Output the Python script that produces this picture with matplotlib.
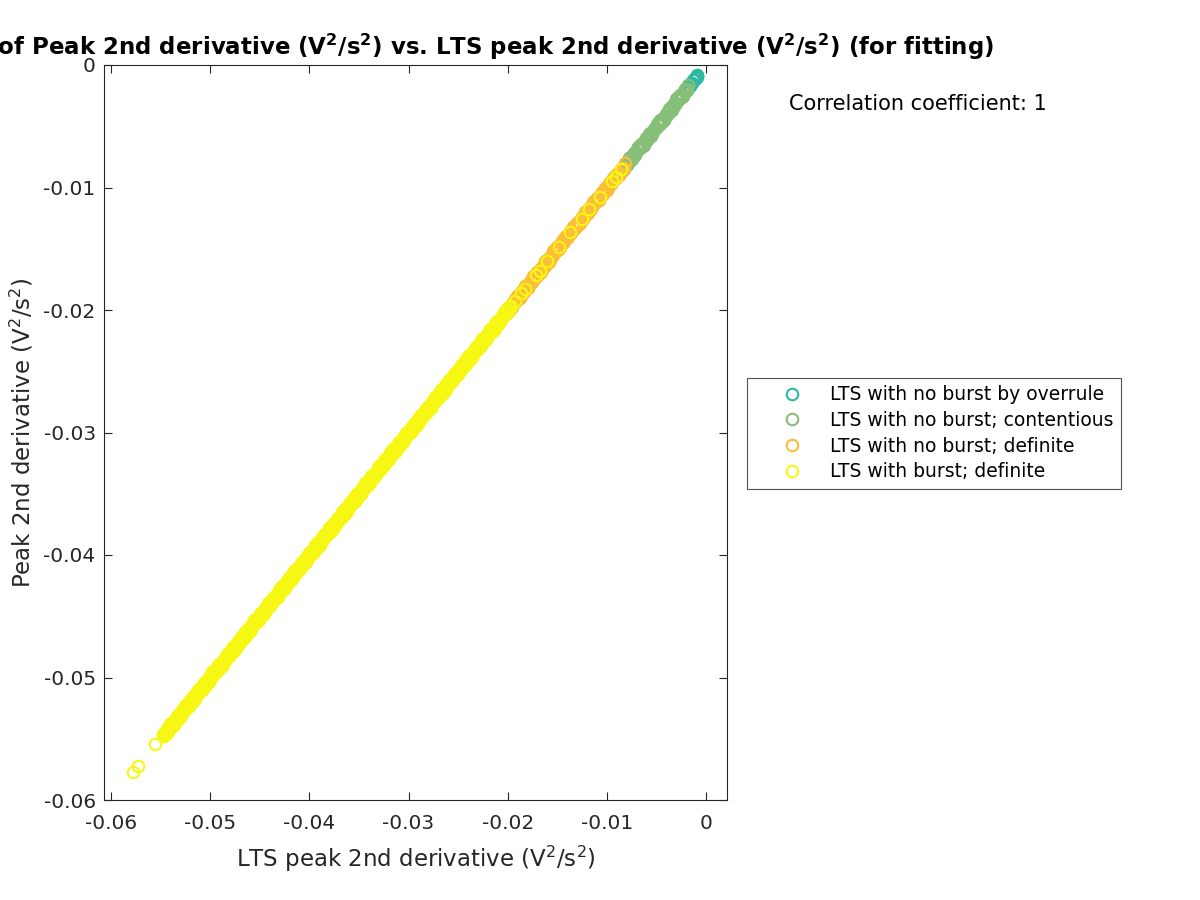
import matplotlib
matplotlib.use("Agg")
import matplotlib.pyplot as plt
from matplotlib.lines import Line2D

plt.rcParams['font.family'] = ['DejaVu Sans']
plt.rcParams['axes.unicode_minus'] = False

# ---------------- data ----------------
overrule_x = [-0.00088, -0.00092, -0.00097, -0.00103, -0.00110, -0.00118, -0.00128,
              -0.00140, -0.00152, -0.00165, -0.00180, -0.00196, -0.00212]
overrule_y = [-0.00085, -0.00095, -0.00093, -0.00108, -0.00106, -0.00123, -0.00125,
              -0.00146, -0.00149, -0.00171, -0.00177, -0.00202, -0.00209]

contentious_x = [-0.00180, -0.00199, -0.00221, -0.00240, -0.00259, -0.00281, -0.00300, -0.00320, -0.00341, -0.00360,
                 -0.00379, -0.00401, -0.00420, -0.00440, -0.00461, -0.00480, -0.00500, -0.00521, -0.00540, -0.00559,
                 -0.00581, -0.00600, -0.00620, -0.00641, -0.00660, -0.00680, -0.00701, -0.00720, -0.00740, -0.00761,
                 -0.00780, -0.00800, -0.00821, -0.00840, -0.00860, -0.00879,
                 -0.00189, -0.00209, -0.00229, -0.00249, -0.00269, -0.00289, -0.00309, -0.00329, -0.00349, -0.00369,
                 -0.00389, -0.00409, -0.00429, -0.00449, -0.00469, -0.00489, -0.00509, -0.00529, -0.00549, -0.00569,
                 -0.00589, -0.00609, -0.00629, -0.00649, -0.00669, -0.00689, -0.00709, -0.00729, -0.00749, -0.00769,
                 -0.00789, -0.00809, -0.00829, -0.00849, -0.00869]
contentious_y = [-0.00162, -0.00214, -0.00215, -0.00260, -0.00245, -0.00289, -0.00281, -0.00333, -0.00337, -0.00377,
                 -0.00361, -0.00416, -0.00414, -0.00460, -0.00447, -0.00488, -0.00481, -0.00534, -0.00536, -0.00576,
                 -0.00563, -0.00615, -0.00614, -0.00661, -0.00646, -0.00688, -0.00682, -0.00733, -0.00736, -0.00778,
                 -0.00762, -0.00815, -0.00815, -0.00860, -0.00846, -0.00887,
                 -0.00197, -0.00197, -0.00249, -0.00244, -0.00281, -0.00271, -0.00312, -0.00319, -0.00365, -0.00355,
                 -0.00397, -0.00397, -0.00449, -0.00444, -0.00481, -0.00471, -0.00512, -0.00519, -0.00565, -0.00555,
                 -0.00597, -0.00597, -0.00649, -0.00644, -0.00681, -0.00671, -0.00712, -0.00719, -0.00765, -0.00755,
                 -0.00797, -0.00797, -0.00849, -0.00844, -0.00881]

noburst_x = [-0.00820, -0.00838, -0.00861, -0.00879, -0.00900, -0.00918, -0.00941, -0.00960, -0.00979, -0.01001,
             -0.01020, -0.01039, -0.01061, -0.01080, -0.01099, -0.01121, -0.01140, -0.01160, -0.01181, -0.01200,
             -0.01219, -0.01241, -0.01260, -0.01279, -0.01301, -0.01320, -0.01340, -0.01361, -0.01380, -0.01399,
             -0.01421, -0.01440, -0.01460, -0.01481, -0.01500, -0.01520, -0.01541, -0.01560, -0.01580, -0.01601,
             -0.01620, -0.01641, -0.01660, -0.01680, -0.01701, -0.01720, -0.01741, -0.01760, -0.01781, -0.01800,
             -0.01822, -0.01841, -0.01862, -0.01880, -0.01902, -0.01921, -0.01942, -0.01960, -0.01983, -0.02003,
             -0.00829, -0.00849, -0.00869, -0.00889, -0.00909, -0.00929, -0.00949, -0.00969, -0.00989, -0.01009,
             -0.01029, -0.01049, -0.01069, -0.01089, -0.01109, -0.01129, -0.01149, -0.01169, -0.01189, -0.01209,
             -0.01229, -0.01249, -0.01269, -0.01289, -0.01309, -0.01329, -0.01349, -0.01369, -0.01389, -0.01409,
             -0.01429, -0.01449, -0.01469, -0.01489, -0.01509, -0.01529, -0.01549, -0.01569, -0.01589, -0.01609,
             -0.01629, -0.01649, -0.01669, -0.01689, -0.01709, -0.01729, -0.01749, -0.01769, -0.01789, -0.01809,
             -0.01829, -0.01849, -0.01869, -0.01889, -0.01909, -0.01929, -0.01949, -0.01969, -0.01989, -0.02009]
noburst_y = [-0.00802, -0.00853, -0.00855, -0.00899, -0.00886, -0.00926, -0.00922, -0.00973, -0.00975, -0.01018,
             -0.01002, -0.01054, -0.01055, -0.01100, -0.01085, -0.01129, -0.01121, -0.01173, -0.01177, -0.01217,
             -0.01201, -0.01256, -0.01254, -0.01299, -0.01287, -0.01328, -0.01321, -0.01374, -0.01376, -0.01416,
             -0.01403, -0.01455, -0.01454, -0.01501, -0.01486, -0.01528, -0.01522, -0.01573, -0.01576, -0.01618,
             -0.01602, -0.01656, -0.01654, -0.01700, -0.01687, -0.01728, -0.01722, -0.01773, -0.01777, -0.01817,
             -0.01804, -0.01856, -0.01856, -0.01900, -0.01888, -0.01929, -0.01923, -0.01973, -0.01979, -0.02020,
             -0.00837, -0.00837, -0.00889, -0.00884, -0.00921, -0.00911, -0.00952, -0.00959, -0.01005, -0.00995,
             -0.01037, -0.01037, -0.01089, -0.01084, -0.01121, -0.01111, -0.01152, -0.01159, -0.01205, -0.01195,
             -0.01237, -0.01237, -0.01289, -0.01284, -0.01321, -0.01311, -0.01352, -0.01359, -0.01405, -0.01395,
             -0.01437, -0.01437, -0.01489, -0.01484, -0.01521, -0.01511, -0.01552, -0.01559, -0.01605, -0.01595,
             -0.01637, -0.01637, -0.01689, -0.01684, -0.01721, -0.01711, -0.01752, -0.01759, -0.01805, -0.01795,
             -0.01837, -0.01837, -0.01889, -0.01884, -0.01921, -0.01911, -0.01952, -0.01959, -0.02005, -0.01995]

burst_x = [
    -0.05777, -0.05726, -0.05554,
    -0.05480, -0.05462, -0.05451, -0.05433, -0.05420, -0.05405, -0.05391, -0.05377, -0.05362, -0.05350,
    -0.05334, -0.05322, -0.05306, -0.05293, -0.05279, -0.05265, -0.05250, -0.05238, -0.05221, -0.05210,
    -0.05195, -0.05181, -0.05168, -0.05152, -0.05140, -0.05124, -0.05112, -0.05097, -0.05083, -0.05070,
    -0.05054, -0.05042, -0.05027, -0.05013, -0.05000, -0.04985, -0.04972, -0.04958, -0.04943, -0.04930,
    -0.04916, -0.04903, -0.04888, -0.04874, -0.04861, -0.04846, -0.04833, -0.04818, -0.04805, -0.04790,
    -0.04777, -0.04763, -0.04749, -0.04735, -0.04720, -0.04708, -0.04693, -0.04680, -0.04665, -0.04652,
    -0.04637, -0.04624, -0.04610, -0.04596, -0.04581, -0.04568, -0.04553, -0.04540, -0.04526, -0.04512,
    -0.04498, -0.04484, -0.04470, -0.04457, -0.04442, -0.04428, -0.04415, -0.04400, -0.04387, -0.04372,
    -0.04359, -0.04345, -0.04330, -0.04317, -0.04303, -0.04289, -0.04275, -0.04260, -0.04247, -0.04233,
    -0.04219, -0.04205, -0.04191, -0.04177, -0.04163, -0.04149, -0.04135, -0.04121, -0.04107, -0.04093,
    -0.04079, -0.04065, -0.04051, -0.04037, -0.04023, -0.04009, -0.03995, -0.03981, -0.03967, -0.03953,
    -0.03939, -0.03925, -0.03911, -0.03897, -0.03883, -0.03869, -0.03855, -0.03841, -0.03827, -0.03813,
    -0.03799, -0.03785, -0.03771, -0.03757, -0.03743, -0.03729, -0.03715, -0.03701, -0.03687, -0.03673,
    -0.03659, -0.03645, -0.03631, -0.03617, -0.03603, -0.03589, -0.03575, -0.03561, -0.03547, -0.03533,
    -0.03519, -0.03505, -0.03491, -0.03477, -0.03463, -0.03449, -0.03435, -0.03421, -0.03407, -0.03393,
    -0.03379, -0.03365, -0.03351, -0.03337, -0.03323, -0.03309, -0.03295, -0.03281, -0.03267, -0.03253,
    -0.03239, -0.03225, -0.03211, -0.03197, -0.03183, -0.03169, -0.03155, -0.03141, -0.03127, -0.03113,
    -0.03099, -0.03085, -0.03071, -0.03057, -0.03043, -0.03029, -0.03015, -0.03001, -0.02987, -0.02973,
    -0.02959, -0.02945, -0.02931, -0.02917, -0.02903, -0.02889, -0.02875, -0.02861, -0.02847, -0.02833,
    -0.02819, -0.02805, -0.02791, -0.02777, -0.02763, -0.02749, -0.02735, -0.02721, -0.02707, -0.02693,
    -0.02679, -0.02665, -0.02651, -0.02637, -0.02623, -0.02609, -0.02595, -0.02581, -0.02567, -0.02553,
    -0.02539, -0.02525, -0.02511, -0.02497, -0.02483, -0.02469, -0.02455, -0.02441, -0.02427, -0.02413,
    -0.02399, -0.02385, -0.02371, -0.02357, -0.02343, -0.02329, -0.02315, -0.02301, -0.02287, -0.02273,
    -0.02259, -0.02245, -0.02231, -0.02217, -0.02203, -0.02189, -0.02175, -0.02161, -0.02147, -0.02133,
    -0.02119, -0.02105, -0.02091, -0.02077, -0.02063, -0.02049, -0.02035, -0.02021, -0.02007, -0.01993,
    -0.01972, -0.01925, -0.01870, -0.01825, -0.01720, -0.01672, -0.01605, -0.01480, -0.01370, -0.01250,
    -0.01180, -0.01070, -0.00950, -0.00910, -0.00860,
    -0.05473, -0.05459, -0.05445, -0.05431, -0.05417, -0.05403, -0.05389, -0.05375, -0.05361, -0.05347,
    -0.05327, -0.05313, -0.05299, -0.05285, -0.05271, -0.05257, -0.05243, -0.05229, -0.05215, -0.05201,
    -0.05188, -0.05174, -0.05160, -0.05146, -0.05132, -0.05118, -0.05104, -0.05090, -0.05076, -0.05062,
    -0.05047, -0.05033, -0.05019, -0.05005, -0.04991, -0.04977, -0.04963, -0.04949, -0.04935, -0.04921,
    -0.04909, -0.04895, -0.04881, -0.04867, -0.04853, -0.04839, -0.04825, -0.04811, -0.04797, -0.04783,
    -0.04770, -0.04756, -0.04742, -0.04728, -0.04714, -0.04700, -0.04686, -0.04672, -0.04658, -0.04644,
    -0.04630, -0.04616, -0.04602, -0.04588, -0.04574, -0.04560, -0.04546, -0.04532, -0.04518, -0.04504,
    -0.04491, -0.04477, -0.04463, -0.04449, -0.04435, -0.04421, -0.04407, -0.04393, -0.04379, -0.04365,
    -0.04352, -0.04338, -0.04324, -0.04310, -0.04296, -0.04282, -0.04268, -0.04254, -0.04240, -0.04226,
    -0.04212, -0.04198, -0.04184, -0.04170, -0.04156, -0.04142, -0.04128, -0.04114, -0.04100, -0.04086,
    -0.04072, -0.04058, -0.04044, -0.04030, -0.04016, -0.04002, -0.03988, -0.03974, -0.03960, -0.03946,
    -0.03932, -0.03918, -0.03904, -0.03890, -0.03876, -0.03862, -0.03848, -0.03834, -0.03820, -0.03806,
    -0.03792, -0.03778, -0.03764, -0.03750, -0.03736, -0.03722, -0.03708, -0.03694, -0.03680, -0.03666,
    -0.03652, -0.03638, -0.03624, -0.03610, -0.03596, -0.03582, -0.03568, -0.03554, -0.03540, -0.03526,
    -0.03512, -0.03498, -0.03484, -0.03470, -0.03456, -0.03442, -0.03428, -0.03414, -0.03400, -0.03386,
    -0.03372, -0.03358, -0.03344, -0.03330, -0.03316, -0.03302, -0.03288, -0.03274, -0.03260, -0.03246,
    -0.03232, -0.03218, -0.03204, -0.03190, -0.03176, -0.03162, -0.03148, -0.03134, -0.03120, -0.03106,
    -0.03092, -0.03078, -0.03064, -0.03050, -0.03036, -0.03022, -0.03008, -0.02994, -0.02980, -0.02966,
    -0.02952, -0.02938, -0.02924, -0.02910, -0.02896, -0.02882, -0.02868, -0.02854, -0.02840, -0.02826,
    -0.02812, -0.02798, -0.02784, -0.02770, -0.02756, -0.02742, -0.02728, -0.02714, -0.02700, -0.02686,
    -0.02672, -0.02658, -0.02644, -0.02630, -0.02616, -0.02602, -0.02588, -0.02574, -0.02560, -0.02546,
    -0.02532, -0.02518, -0.02504, -0.02490, -0.02476, -0.02462, -0.02448, -0.02434, -0.02420, -0.02406,
    -0.02392, -0.02378, -0.02364, -0.02350, -0.02336, -0.02322, -0.02308, -0.02294, -0.02280, -0.02266,
    -0.02252, -0.02238, -0.02224, -0.02210, -0.02196, -0.02182, -0.02168, -0.02154, -0.02140, -0.02126,
    -0.02112, -0.02098, -0.02084, -0.02070, -0.02056, -0.02042, -0.02028, -0.02014, -0.02000, -0.01986]
burst_y = [
    -0.05771, -0.05722, -0.05543,
    -0.05460, -0.05479, -0.05443, -0.05455, -0.05404, -0.05411, -0.05370, -0.05392, -0.05359, -0.05369,
    -0.05314, -0.05339, -0.05298, -0.05315, -0.05263, -0.05271, -0.05229, -0.05253, -0.05218, -0.05229,
    -0.05175, -0.05198, -0.05160, -0.05174, -0.05124, -0.05130, -0.05091, -0.05112, -0.05080, -0.05089,
    -0.05034, -0.05059, -0.05019, -0.05035, -0.04984, -0.04991, -0.04951, -0.04973, -0.04940, -0.04949,
    -0.04896, -0.04920, -0.04880, -0.04896, -0.04845, -0.04852, -0.04812, -0.04833, -0.04802, -0.04809,
    -0.04757, -0.04780, -0.04741, -0.04757, -0.04704, -0.04714, -0.04672, -0.04695, -0.04662, -0.04671,
    -0.04617, -0.04641, -0.04602, -0.04618, -0.04565, -0.04574, -0.04532, -0.04555, -0.04523, -0.04531,
    -0.04478, -0.04501, -0.04462, -0.04479, -0.04426, -0.04434, -0.04394, -0.04415, -0.04384, -0.04391,
    -0.04339, -0.04362, -0.04322, -0.04339, -0.04287, -0.04295, -0.04254, -0.04275, -0.04244, -0.04252,
    -0.04199, -0.04222, -0.04183, -0.04199, -0.04147, -0.04155, -0.04114, -0.04136, -0.04104, -0.04112,
    -0.04059, -0.04082, -0.04043, -0.04059, -0.04007, -0.04015, -0.03974, -0.03996, -0.03964, -0.03972,
    -0.03919, -0.03942, -0.03903, -0.03919, -0.03867, -0.03875, -0.03834, -0.03856, -0.03824, -0.03832,
    -0.03779, -0.03802, -0.03763, -0.03779, -0.03727, -0.03735, -0.03694, -0.03716, -0.03684, -0.03692,
    -0.03639, -0.03662, -0.03623, -0.03639, -0.03587, -0.03595, -0.03554, -0.03576, -0.03544, -0.03552,
    -0.03499, -0.03522, -0.03483, -0.03499, -0.03447, -0.03455, -0.03414, -0.03436, -0.03404, -0.03412,
    -0.03359, -0.03382, -0.03343, -0.03359, -0.03307, -0.03315, -0.03274, -0.03296, -0.03264, -0.03272,
    -0.03219, -0.03242, -0.03203, -0.03219, -0.03167, -0.03175, -0.03134, -0.03156, -0.03124, -0.03132,
    -0.03079, -0.03102, -0.03063, -0.03079, -0.03027, -0.03035, -0.02994, -0.03016, -0.02984, -0.02992,
    -0.02939, -0.02962, -0.02923, -0.02939, -0.02887, -0.02895, -0.02854, -0.02876, -0.02844, -0.02852,
    -0.02799, -0.02822, -0.02783, -0.02799, -0.02747, -0.02755, -0.02714, -0.02736, -0.02704, -0.02712,
    -0.02659, -0.02682, -0.02643, -0.02659, -0.02607, -0.02615, -0.02574, -0.02596, -0.02564, -0.02572,
    -0.02519, -0.02542, -0.02503, -0.02519, -0.02467, -0.02475, -0.02434, -0.02456, -0.02424, -0.02432,
    -0.02379, -0.02402, -0.02363, -0.02379, -0.02327, -0.02335, -0.02294, -0.02316, -0.02284, -0.02292,
    -0.02239, -0.02262, -0.02223, -0.02239, -0.02187, -0.02195, -0.02154, -0.02176, -0.02144, -0.02152,
    -0.02099, -0.02122, -0.02083, -0.02099, -0.02047, -0.02055, -0.02014, -0.02036, -0.02004, -0.02012,
    -0.01965, -0.01930, -0.01862, -0.01831, -0.01712, -0.01680, -0.01598, -0.01487, -0.01362, -0.01256,
    -0.01173, -0.01076, -0.00943, -0.00916, -0.00853,
    -0.05481, -0.05447, -0.05465, -0.05426, -0.05429, -0.05385, -0.05392, -0.05365, -0.05377, -0.05333,
    -0.05335, -0.05301, -0.05319, -0.05280, -0.05283, -0.05239, -0.05246, -0.05219, -0.05231, -0.05187,
    -0.05196, -0.05162, -0.05180, -0.05141, -0.05144, -0.05100, -0.05107, -0.05080, -0.05092, -0.05048,
    -0.05055, -0.05021, -0.05039, -0.05000, -0.05003, -0.04959, -0.04966, -0.04939, -0.04951, -0.04907,
    -0.04917, -0.04883, -0.04901, -0.04862, -0.04865, -0.04821, -0.04828, -0.04801, -0.04813, -0.04769,
    -0.04778, -0.04744, -0.04762, -0.04723, -0.04726, -0.04682, -0.04689, -0.04662, -0.04674, -0.04630,
    -0.04638, -0.04604, -0.04622, -0.04583, -0.04586, -0.04542, -0.04549, -0.04522, -0.04534, -0.04490,
    -0.04499, -0.04465, -0.04483, -0.04444, -0.04447, -0.04403, -0.04410, -0.04383, -0.04395, -0.04351,
    -0.04360, -0.04326, -0.04344, -0.04305, -0.04308, -0.04264, -0.04271, -0.04244, -0.04256, -0.04212,
    -0.04220, -0.04186, -0.04204, -0.04165, -0.04168, -0.04124, -0.04131, -0.04104, -0.04116, -0.04072,
    -0.04080, -0.04046, -0.04064, -0.04025, -0.04028, -0.03984, -0.03991, -0.03964, -0.03976, -0.03932,
    -0.03940, -0.03906, -0.03924, -0.03885, -0.03888, -0.03844, -0.03851, -0.03824, -0.03836, -0.03792,
    -0.03800, -0.03766, -0.03784, -0.03745, -0.03748, -0.03704, -0.03711, -0.03684, -0.03696, -0.03652,
    -0.03660, -0.03626, -0.03644, -0.03605, -0.03608, -0.03564, -0.03571, -0.03544, -0.03556, -0.03512,
    -0.03520, -0.03486, -0.03504, -0.03465, -0.03468, -0.03424, -0.03431, -0.03404, -0.03416, -0.03372,
    -0.03380, -0.03346, -0.03364, -0.03325, -0.03328, -0.03284, -0.03291, -0.03264, -0.03276, -0.03232,
    -0.03240, -0.03206, -0.03224, -0.03185, -0.03188, -0.03144, -0.03151, -0.03124, -0.03136, -0.03092,
    -0.03100, -0.03066, -0.03084, -0.03045, -0.03048, -0.03004, -0.03011, -0.02984, -0.02996, -0.02952,
    -0.02960, -0.02926, -0.02944, -0.02905, -0.02908, -0.02864, -0.02871, -0.02844, -0.02856, -0.02812,
    -0.02820, -0.02786, -0.02804, -0.02765, -0.02768, -0.02724, -0.02731, -0.02704, -0.02716, -0.02672,
    -0.02680, -0.02646, -0.02664, -0.02625, -0.02628, -0.02584, -0.02591, -0.02564, -0.02576, -0.02532,
    -0.02540, -0.02506, -0.02524, -0.02485, -0.02488, -0.02444, -0.02451, -0.02424, -0.02436, -0.02392,
    -0.02400, -0.02366, -0.02384, -0.02345, -0.02348, -0.02304, -0.02311, -0.02284, -0.02296, -0.02252,
    -0.02260, -0.02226, -0.02244, -0.02205, -0.02208, -0.02164, -0.02171, -0.02144, -0.02156, -0.02112,
    -0.02120, -0.02086, -0.02104, -0.02065, -0.02068, -0.02024, -0.02031, -0.02004, -0.02016, -0.01972]

series_labels = ['LTS with no burst by overrule',
                 'LTS with no burst; contentious',
                 'LTS with no burst; definite',
                 'LTS with burst; definite']
series_colors = ['#2db8a3', '#86bf77', '#fcbd38', '#f7f714']

x_ticks = [-0.06, -0.05, -0.04, -0.03, -0.02, -0.01, 0]
x_tick_labels = ['-0.06', '-0.05', '-0.04', '-0.03', '-0.02', '-0.01', '0']
y_ticks = [-0.06, -0.05, -0.04, -0.03, -0.02, -0.01, 0]
y_tick_labels = ['-0.06', '-0.05', '-0.04', '-0.03', '-0.02', '-0.01', '0']

# ---------------- figure ----------------
fig = plt.figure(figsize=(12, 9), dpi=100)
ax = fig.add_axes([104/1200, 1 - 800/900, (727 - 104)/1200, (800 - 65)/900])

MS = 8.3
MEW = 1.5
xs = [overrule_x, contentious_x, noburst_x, burst_x]
ys = [overrule_y, contentious_y, noburst_y, burst_y]
for x, y, c in zip(xs, ys, series_colors):
    ax.plot(x, y, linestyle='none', marker='o', markersize=MS,
            markerfacecolor='none', markeredgecolor=c, markeredgewidth=MEW)

ax.set_xlim(-0.0607, 0.0021)
ax.set_ylim(-0.06, 0)
ax.set_xticks(x_ticks)
ax.set_xticklabels(x_tick_labels)
ax.set_yticks(y_ticks)
ax.set_yticklabels(y_tick_labels)

axcol = '#262626'
ax.tick_params(direction='in', length=6, width=0.8, top=True, right=True,
               labelsize=14.5, colors=axcol)
ax.tick_params(axis='x', pad=10)
ax.tick_params(axis='y', pad=6)
for s in ax.spines.values():
    s.set_color(axcol)
    s.set_linewidth(0.8)

ax.set_xlabel('LTS peak 2nd derivative (V$^2$/s$^2$)', fontsize=16.5, color=axcol, labelpad=8)
ax.set_ylabel('Peak 2nd derivative (V$^2$/s$^2$)', fontsize=16.5, color=axcol, labelpad=6)
ax.set_title(r'Scatter plot of Peak 2nd derivative (V$^\mathbf{2}$/s$^\mathbf{2}$) vs. '
             r'LTS peak 2nd derivative (V$^\mathbf{2}$/s$^\mathbf{2}$) (for fitting)',
             fontsize=16.5, fontweight='bold', color='black', pad=7)

fig.text(789/1200, 1 - 104/900, 'Correlation coefficient: 1', fontsize=15,
         ha='left', va='center', color='black')

handles = [Line2D([], [], linestyle='none', marker='o', markersize=MS,
                  markerfacecolor='none', markeredgecolor=c, markeredgewidth=MEW)
           for c in series_colors]
leg = fig.legend(handles, series_labels, loc='upper left',
                 bbox_to_anchor=(747/1200, 1 - 378/900), fontsize=13.5,
                 frameon=True, fancybox=False, edgecolor=axcol,
                 handlelength=4.0, handletextpad=0.0, borderpad=0.4,
                 labelspacing=0.35, borderaxespad=0)
leg.get_frame().set_linewidth(0.8)

fig.savefig('out.png', dpi=100)
